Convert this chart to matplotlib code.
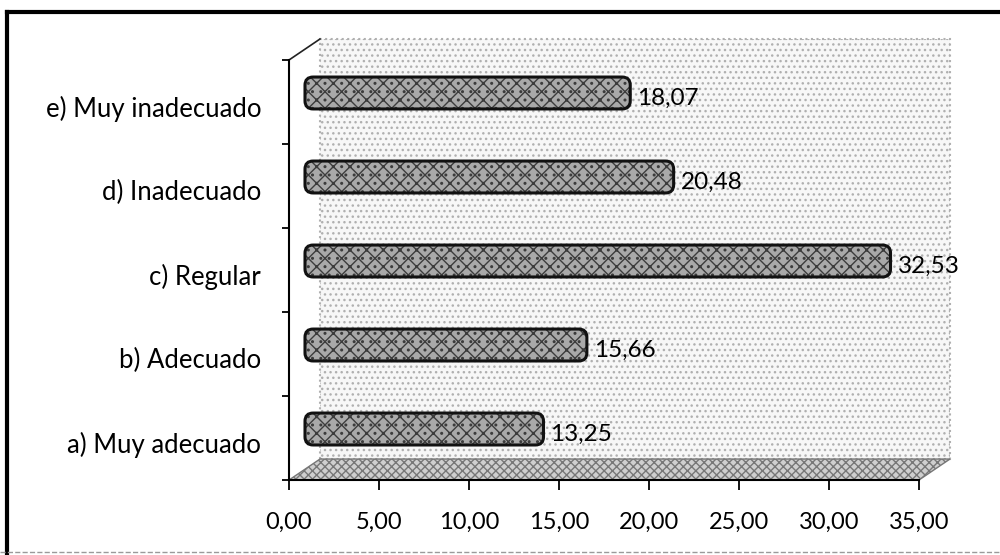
import matplotlib.pyplot as plt
import matplotlib.transforms as mtransforms
from matplotlib.patches import FancyBboxPatch, Polygon, Rectangle
from matplotlib.ticker import FuncFormatter, FixedLocator

categories = ["a) Muy adecuado", "b) Adecuado", "c) Regular",
              "d) Inadecuado", "e) Muy inadecuado"]
values = [13.25, 15.66, 32.53, 20.48, 18.07]
x_ticks = [0, 5, 10, 15, 20, 25, 30, 35]


def coma(v, pos=None):
    """Format numbers the Spanish way"""
    return f"{v:.2f}".replace(".", ",")


def main():
    """Draws the 3D-looking bar chart"""
    plt.rcParams['font.family'] = ['Lato', 'DejaVu Sans']
    fig = plt.figure(figsize=(10, 5.55), dpi=100)
    ax = fig.add_axes([0.289, 0.1351, 0.630, 0.7568])
    ax.set_xlim(0, 35)
    ax.set_ylim(-0.5, 4.5)

    # depth offsets (pixels) for the wall and the bar plane
    wall_dx, wall_dy = 31, 21
    bar_dx, bar_dy = 16, 9
    bar_trans = ax.transData + mtransforms.ScaledTranslation(
        bar_dx / 100, bar_dy / 100, fig.dpi_scale_trans)

    # back wall and floor in axes fractions
    fx = wall_dx / 630
    fy = wall_dy / 420
    wall = Rectangle((fx, fy), 1, 1, transform=ax.transAxes,
                     facecolor="#f7f7f7", edgecolor="#b0b0b0",
                     linestyle=":", linewidth=1.5, hatch="...",
                     clip_on=False, zorder=0)
    ax.add_patch(wall)
    floor = Polygon([(0, 0), (1, 0), (1 + fx, fy), (fx, fy)],
                    transform=ax.transAxes, facecolor="#cfcfcf",
                    edgecolor="#777777", hatch="xxxx", linewidth=1,
                    clip_on=False, zorder=1)
    ax.add_patch(floor)
    ax.plot([0, fx], [1, 1 + fy], transform=ax.transAxes, color="#222222",
            linewidth=1.2, clip_on=False)

    # bars through the library, then drawn with rounded ends
    bars = ax.barh(range(len(values)), values, height=0.38,
                   transform=bar_trans, visible=False)
    for b in bars:
        x, y = b.get_x(), b.get_y()
        w, h = b.get_width(), b.get_height()
        fill = FancyBboxPatch((x, y), w, h,
                              boxstyle="round,pad=0,rounding_size=0.45",
                              mutation_aspect=18 / 84, transform=bar_trans,
                              facecolor="#a9a9a9", edgecolor="#3c3c3c",
                              hatch="xx..", linewidth=0, zorder=3)
        edge = FancyBboxPatch((x, y), w, h,
                              boxstyle="round,pad=0,rounding_size=0.45",
                              mutation_aspect=18 / 84, transform=bar_trans,
                              facecolor="none", edgecolor="#111111",
                              linewidth=2.2, zorder=4)
        ax.add_patch(fill)
        ax.add_patch(edge)

    for i, v in enumerate(values):
        ax.annotate(coma(v), xy=(v, i), xycoords=bar_trans,
                    xytext=(5, -4), textcoords="offset points",
                    ha="left", va="center", fontsize=17.5, color="black",
                    zorder=5)

    # axes look
    for side in ["top", "right"]:
        ax.spines[side].set_visible(False)
    ax.spines["left"].set_linewidth(1.5)
    ax.spines["bottom"].set_linewidth(1.5)
    ax.set_facecolor("none")

    ax.xaxis.set_major_locator(FixedLocator(x_ticks))
    ax.xaxis.set_major_formatter(FuncFormatter(coma))
    ax.tick_params(axis="x", length=7, width=1.3, pad=16, labelsize=17)

    ax.set_yticks([-0.5, 0.5, 1.5, 2.5, 3.5, 4.5])
    ax.set_yticklabels([])
    ax.set_yticks([i - 0.05 for i in range(len(categories))], minor=True)
    ax.set_yticklabels(categories, minor=True)
    ax.tick_params(axis="y", which="major", length=5, width=1.3)
    ax.tick_params(axis="y", which="minor", length=0, pad=20, labelsize=18.5)

    # scanned page frame
    fig.add_artist(plt.Line2D([0.007, 1.0], [0.978, 0.978],
                              color="black", linewidth=3))
    fig.add_artist(plt.Line2D([0.007, 0.007], [0.0, 0.978],
                              color="black", linewidth=3))
    fig.add_artist(plt.Line2D([0.0, 1.0], [0.006, 0.006],
                              color="#9a9a9a", linewidth=1, linestyle="--"))

    fig.savefig("out.png", dpi=100)


if __name__ == "__main__":
    main()
